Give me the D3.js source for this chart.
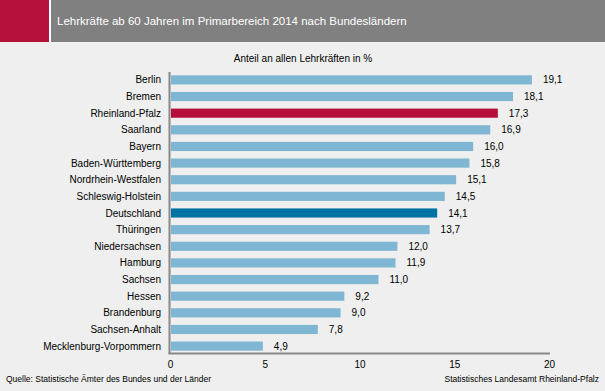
<!DOCTYPE html>
<html><head><meta charset="utf-8">
<script src="https://cdn.jsdelivr.net/npm/d3@7"></script>
<style>
body{margin:0;background:#eeefee;}
svg{display:block;font-family:Arial,"Liberation Sans",sans-serif;}
</style></head>
<body><svg id="c" width="605" height="391"></svg>
<script>
const categories = ["Berlin","Bremen","Rheinland-Pfalz","Saarland","Bayern","Baden-Württemberg","Nordrhein-Westfalen","Schleswig-Holstein","Deutschland","Thüringen","Niedersachsen","Hamburg","Sachsen","Hessen","Brandenburg","Sachsen-Anhalt","Mecklenburg-Vorpommern"];
const values = [19.1,18.1,17.3,16.9,16.0,15.8,15.1,14.5,14.1,13.7,12.0,11.9,11.0,9.2,9.0,7.8,4.9];
const tickValues = [0,5,10,15,20];
const title = "Lehrkräfte ab 60 Jahren im Primarbereich 2014 nach Bundesländern";
const subtitle = "Anteil an allen Lehrkräften in %";
const sourceLeft = "Quelle: Statistische Ämter des Bundes und der Länder";
const sourceRight = "Statistisches Landesamt Rheinland-Pfalz";

const svg = d3.select("#c");
svg.append("rect").attr("width",605).attr("height",391).attr("fill","#eeefee");
svg.append("rect").attr("x",0).attr("y",0).attr("width",605).attr("height",42).attr("fill","#808080");
svg.append("rect").attr("x",0).attr("y",0).attr("width",49).attr("height",42).attr("fill","#b5103c");
svg.append("rect").attr("x",49).attr("y",0).attr("width",2).attr("height",42).attr("fill","#ffffff");
svg.append("text").attr("x",57).attr("y",25).attr("fill","#ffffff").attr("font-size",11.5).text(title);

svg.append("text").attr("x",303).attr("y",62).attr("text-anchor","middle").attr("font-size",10).attr("fill","#000").text(subtitle);

const x = d3.scaleLinear().domain([0,20]).range([170,549]);
const y = d3.scaleBand().domain(categories).range([72,354]).paddingInner(0.45).paddingOuter(0.2);

const colorFor = c => c==="Rheinland-Pfalz" ? "#b5103c" : (c==="Deutschland" ? "#0072a3" : "#7fb6d3");

svg.selectAll("rect.bar").data(categories).enter().append("rect").attr("class","bar")
  .attr("x",x(0)+1).attr("y",d=>y(d)).attr("height",y.bandwidth())
  .attr("width",(d,i)=>x(values[i])-x(0)-1).attr("fill",colorFor);

svg.selectAll("text.val").data(categories).enter().append("text").attr("class","val")
  .attr("x",(d,i)=>x(values[i])+11).attr("y",d=>y(d)+y.bandwidth()/2+3.5)
  .attr("font-size",10).attr("fill","#000")
  .text((d,i)=>d3.format(".1f")(values[i]).replace(".",","));

svg.selectAll("text.cat").data(categories).enter().append("text").attr("class","cat")
  .attr("x",161).attr("y",d=>y(d)+y.bandwidth()/2+3.5).attr("text-anchor","end")
  .attr("font-size",10).attr("fill","#000").text(d=>d);

// axes lines
svg.append("line").attr("x1",169.5).attr("x2",169.5).attr("y1",72).attr("y2",354).attr("stroke","#888").attr("stroke-width",2);
svg.append("line").attr("x1",168.5).attr("x2",550).attr("y1",353.5).attr("y2",353.5).attr("stroke","#888").attr("stroke-width",2);

const ax = d3.axisBottom(x).tickValues(tickValues).tickSize(0).tickPadding(0);
const g = svg.append("g").attr("transform","translate(0,361)").call(ax);
g.select(".domain").remove();
g.selectAll("text").attr("font-size",10).attr("fill","#000").attr("font-family","Arial,'Liberation Sans',sans-serif").attr("dy","0.71em");

svg.append("text").attr("x",6).attr("y",382).attr("font-size",8.5).attr("fill","#000").text(sourceLeft);
svg.append("text").attr("x",599).attr("y",382).attr("text-anchor","end").attr("font-size",8.5).attr("fill","#000").text(sourceRight);
</script></body></html>
